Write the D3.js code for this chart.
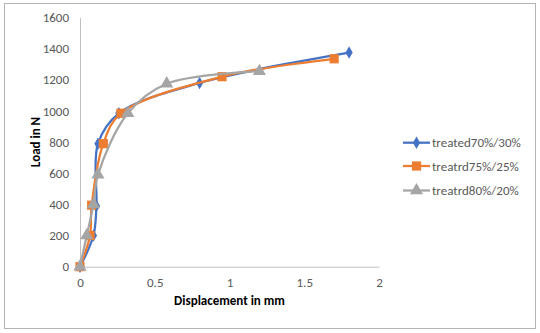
<!DOCTYPE html>
<html><head><meta charset="utf-8">
<script src="https://cdn.jsdelivr.net/npm/d3@7"></script>
<style>body{margin:0;background:#fff}svg{display:block}</style>
</head><body>
<svg id="c" width="540" height="333"></svg>
<script>
const seriesNames = ["treated70%/30%", "treatrd75%/25%", "treatrd80%/20%"];
const colors = ["#4472C4", "#ED7D31", "#A5A5A5"];
const xBlue = [0, 0.09, 0.11, 0.12, 0.26, 0.80, 1.80];
const yBlue = [0, 200, 390, 790, 985, 1180, 1375];
const xOrange = [0, 0.067, 0.078, 0.156, 0.274, 0.95, 1.70];
const yOrange = [0, 200, 395, 790, 985, 1220, 1335];
const xGray = [0, 0.045, 0.09, 0.12, 0.32, 0.58, 1.20];
const yGray = [0, 200, 400, 590, 985, 1175, 1255];
const xTicks = [0, 0.5, 1, 1.5, 2];
const yTicks = [0, 200, 400, 600, 800, 1000, 1200, 1400, 1600];

const font = "Carlito, Lato, 'Liberation Sans', sans-serif";
const svg = d3.select("#c");
svg.append("rect").attr("x", 4.5).attr("y", 3.5).attr("width", 531).attr("height", 325)
  .attr("fill", "#fff").attr("stroke", "#b3b3b3").attr("stroke-width", 1);

const x = d3.scaleLinear().domain([0, 2]).range([80, 379]);
const y = d3.scaleLinear().domain([0, 1600]).range([266.7, 17.5]);

const axisColor = "#bfbfbf";
const xAxis = svg.append("g").attr("transform", "translate(0,266.7)")
  .call(d3.axisBottom(x).tickValues(xTicks).tickSize(0).tickPadding(11).tickFormat(d3.format("")));
const yAxis = svg.append("g").attr("transform", "translate(80,0)")
  .call(d3.axisLeft(y).tickValues(yTicks).tickSize(0).tickPadding(11).tickFormat(d3.format("d")));
[xAxis, yAxis].forEach(a => {
  a.select(".domain").attr("stroke", axisColor).attr("stroke-width", 1);
  a.selectAll("text").attr("font-family", font).attr("font-size", 13).attr("fill", "#595959");
});

svg.append("text").attr("x", 229.5).attr("y", 305).attr("text-anchor", "middle")
  .attr("font-family", font).attr("font-size", 13).attr("font-weight", "bold").attr("fill", "#000")
  .text("Displacement in mm");
svg.append("text").attr("transform", "translate(40,142) rotate(-90)").attr("text-anchor", "middle")
  .attr("font-family", font).attr("font-size", 13).attr("font-weight", "bold").attr("fill", "#000")
  .text("Load in N");

const data = [
  xBlue.map((v, i) => [v, yBlue[i]]),
  xOrange.map((v, i) => [v, yOrange[i]]),
  xGray.map((v, i) => [v, yGray[i]])
];
const line = d3.line().x(d => x(d[0])).y(d => y(d[1])).curve(d3.curveCatmullRom.alpha(0.5));
const symbols = [d3.symbolDiamond, d3.symbolSquare, d3.symbolTriangle];
const sizes = [45, 85, 75];

data.forEach((pts, i) => {
  const g = svg.append("g");
  g.append("path").attr("d", line(pts)).attr("fill", "none")
    .attr("stroke", colors[i]).attr("stroke-width", 2.25).attr("stroke-linejoin", "round");
  g.selectAll("path.m").data(pts).enter().append("path").attr("class", "m")
    .attr("transform", d => `translate(${x(d[0])},${y(d[1])})`)
    .attr("d", d3.symbol().type(symbols[i]).size(sizes[i]))
    .attr("fill", colors[i]);
});

const legY = [142.7, 166, 190.5];
seriesNames.forEach((name, i) => {
  const g = svg.append("g").attr("transform", `translate(0,${legY[i]})`);
  g.append("line").attr("x1", 403).attr("x2", 430).attr("y1", 0).attr("y2", 0)
    .attr("stroke", colors[i]).attr("stroke-width", 2.25);
  g.append("path").attr("transform", "translate(416.5,0)")
    .attr("d", d3.symbol().type(symbols[i]).size(sizes[i])).attr("fill", colors[i]);
  g.append("text").attr("x", 432).attr("y", 0).attr("dy", "0.35em")
    .attr("font-family", font).attr("font-size", 13).attr("fill", "#595959").text(name);
});
</script>
</body></html>
